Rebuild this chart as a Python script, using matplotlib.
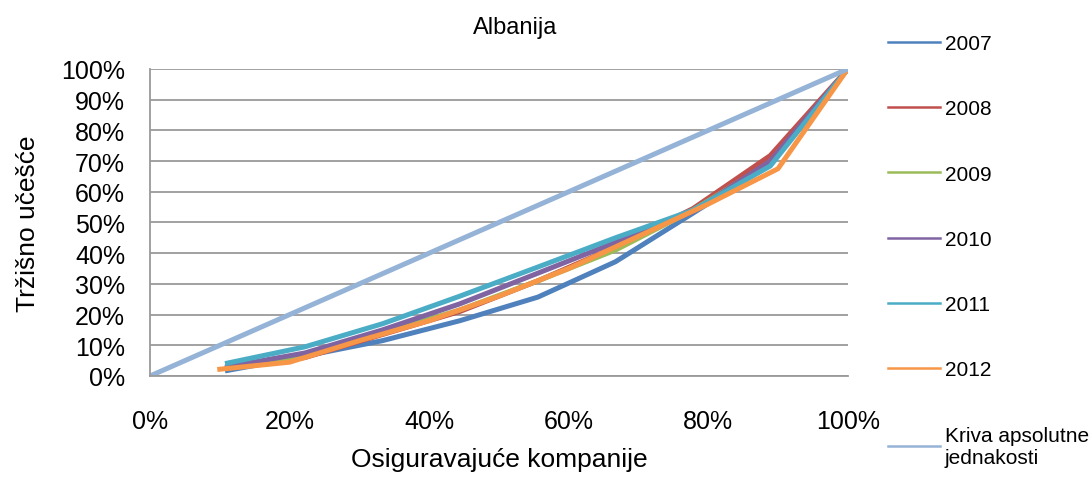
import matplotlib
matplotlib.use('Agg')
from matplotlib import pyplot as plt
from matplotlib.ticker import PercentFormatter

plt.rcParams['font.family'] = ['Liberation Sans', 'DejaVu Sans']

# nine companies (2007-2011), ten companies in 2012
x9 = [0.111, 0.222, 0.333, 0.444, 0.556, 0.667, 0.778, 0.889, 1.0]
x10 = [0.10, 0.20, 0.30, 0.40, 0.50, 0.60, 0.70, 0.80, 0.90, 1.0]

y2007 = [0.018, 0.065, 0.115, 0.180, 0.257, 0.372, 0.530, 0.690, 1.0]
y2008 = [0.025, 0.060, 0.135, 0.210, 0.310, 0.420, 0.545, 0.718, 1.0]
y2009 = [0.025, 0.065, 0.140, 0.215, 0.310, 0.410, 0.540, 0.695, 1.0]
y2010 = [0.030, 0.075, 0.150, 0.235, 0.335, 0.435, 0.535, 0.700, 1.0]
y2011 = [0.042, 0.095, 0.170, 0.260, 0.355, 0.450, 0.540, 0.684, 1.0]
y2012 = [0.022, 0.045, 0.115, 0.180, 0.260, 0.350, 0.455, 0.560, 0.675, 1.0]

diag_x = [0.0, 1.0]
diag_y = [0.0, 1.0]

fig = plt.figure(figsize=(10.91, 4.85), dpi=100)
ax = fig.add_axes([0.1375, 0.2227, 0.6395, 0.633])

lw = 3.6
ax.plot(x9, y2007, c='#4F81BD', lw=lw, label='2007')
ax.plot(x9, y2008, c='#C0504D', lw=lw, label='2008')
ax.plot(x9, y2009, c='#9BBB59', lw=lw, label='2009')
ax.plot(x9, y2010, c='#8064A2', lw=lw, label='2010')
ax.plot(x9, y2011, c='#4BACC6', lw=lw, label='2011')
ax.plot(x10, y2012, c='#F79646', lw=lw, label='2012')
ax.plot(diag_x, diag_y, c='#95B3D7', lw=lw, label='Kriva apsolutne\njednakosti')

ax.set_xlim(0, 1)
ax.set_ylim(0, 1)
ax.set_xticks([0, 0.2, 0.4, 0.6, 0.8, 1.0])
ax.set_yticks([i / 10 for i in range(11)])
ax.xaxis.set_major_formatter(PercentFormatter(1.0, decimals=0))
ax.yaxis.set_major_formatter(PercentFormatter(1.0, decimals=0))
ax.tick_params(axis='both', length=0, labelsize=18)
ax.tick_params(axis='x', pad=24)
ax.tick_params(axis='y', pad=18)

ax.grid(axis='y', c='#9A9A9A', lw=1.3)
ax.set_axisbelow(True)
for s in ['top', 'right']:
    ax.spines[s].set_visible(False)
for s in ['left', 'bottom']:
    ax.spines[s].set_color('#9A9A9A')
    ax.spines[s].set_linewidth(1.3)

ax.set_title('Albanija', fontsize=17, pad=26, x=0.523)
ax.set_xlabel('Osiguravajuće kompanije', fontsize=19, labelpad=10)
ax.set_ylabel('Tržišno učešće', fontsize=19, labelpad=15)

leg = fig.legend(loc='upper left', bbox_to_anchor=(0.797, 0.966), frameon=False,
                 fontsize=15, handlelength=2.5, handletextpad=0.2, labelspacing=2.22)
for line in leg.get_lines():
    line.set_linewidth(1.8)

plt.savefig('out.png', dpi=100)
